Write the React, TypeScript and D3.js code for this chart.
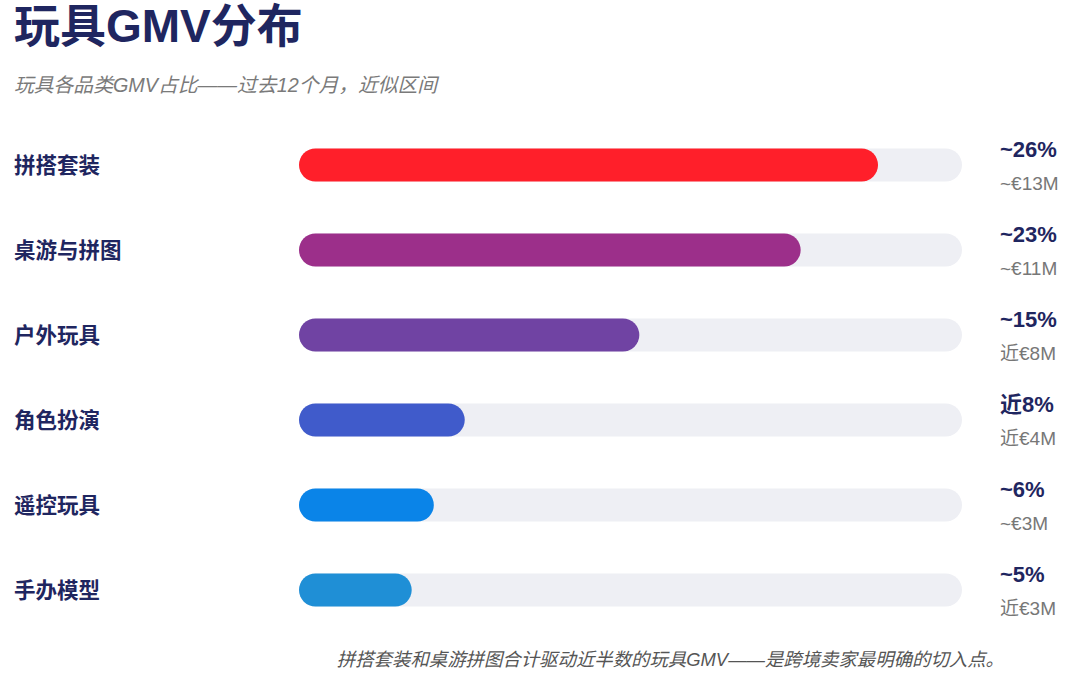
import { useMemo } from "react";
import * as d3 from "d3";

const CATEGORIES = ["拼搭套装", "桌游与拼图", "户外玩具", "角色扮演", "遥控玩具", "手办模型"];
// bar lengths (share of GMV, %)
const SHARES = [26.2, 22.7, 15.4, 7.5, 6.1, 5.1];
const SHARE_LABELS = ["~26%", "~23%", "~15%", "近8%", "~6%", "~5%"];
const GMV_LABELS = ["~€13M", "~€11M", "近€8M", "近€4M", "~€3M", "近€3M"];
const COLORS = ["#FF1F2A", "#9C2F8A", "#7043A3", "#405BCB", "#0A84E8", "#1F8FD6"];
const X_MAX = 30;

const TITLE = "玩具GMV分布";
const SUBTITLE = "玩具各品类GMV占比——过去12个月，近似区间";
const NOTE = "拼搭套装和桌游拼图合计驱动近半数的玩具GMV——是跨境卖家最明确的切入点。";

const W = 1080, H = 675;
const SANS = "'Liberation Sans', Arial, 'Noto Sans CJK SC', sans-serif";
const SERIF = "'Liberation Serif', 'DejaVu Serif', 'Noto Sans CJK SC', serif";
const NAVY = "#1F2660";

export default function App() {
  const rows = useMemo(
    () => CATEGORIES.map((c, i) => ({ c, v: SHARES[i], pct: SHARE_LABELS[i], gmv: GMV_LABELS[i], color: COLORS[i] })),
    []
  );
  const x = d3.scaleLinear().domain([0, X_MAX]).range([299, 962]);
  const y = d3.scalePoint<string>().domain(CATEGORIES).range([165, 590]);
  const bh = 33;

  return (
    <svg width={W} height={H} style={{ position: "absolute", left: 0, top: 0, background: "#fff" }}>
      <text x={14} y={42} fontFamily={SANS} fontWeight={700} fontSize={46} fill={NAVY}>{TITLE}</text>
      <text x={14} y={92} fontFamily={SANS} fontStyle="italic" fontSize={19.8} fill="#7a7a7a">{SUBTITLE}</text>

      {rows.map((d) => {
        const cy = y(d.c) ?? 0;
        return (
          <g key={d.c}>
            <text x={14} y={cy + 8} fontFamily={SERIF} fontWeight={700} fontSize={21.5} fill={NAVY}>{d.c}</text>
            <rect x={x(0)} y={cy - bh / 2} width={x(X_MAX) - x(0)} height={bh} rx={bh / 2} fill="#EEEFF4" />
            <rect x={x(0)} y={cy - bh / 2} width={x(d.v) - x(0)} height={bh} rx={bh / 2} fill={d.color} />
            <text x={1000} y={cy - 8} fontFamily={SANS} fontWeight={700} fontSize={22} fill={NAVY}>{d.pct}</text>
            <text x={1000} y={cy + 25} fontFamily={SANS} fontSize={19} fill="#777">{d.gmv}</text>
          </g>
        );
      })}

      <text x={1004} y={666} textAnchor="end" fontFamily={SANS} fontStyle="italic" fontSize={18.4} fill="#555">{NOTE}</text>
    </svg>
  );
}
